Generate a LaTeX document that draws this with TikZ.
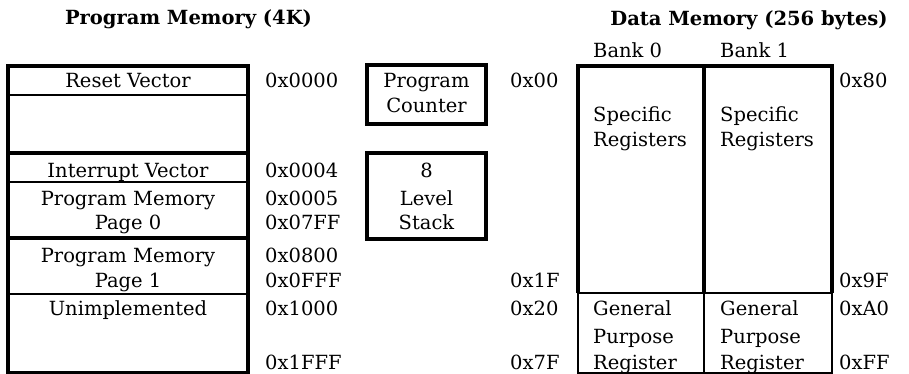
\documentclass[tikz,border=0pt]{standalone}
\usepackage{fontspec}
\setmainfont{DejaVu Serif}
\tikzset{
  txt/.style={inner sep=0pt, anchor=base, font=\fontsize{19.5}{24}\selectfont},
  txtl/.style={txt, anchor=base west},
  ttl/.style={inner sep=0pt, anchor=base, font=\fontsize{19.5}{24}\selectfont\bfseries},
  thickline/.style={line width=3.8pt},
  midline/.style={line width=2.8pt},
  thinline/.style={line width=1.8pt},
  boxnode/.style={draw, line width=3.8pt, inner sep=0pt},
}
\begin{document}
\begin{tikzpicture}[x=1pt,y=-1pt]
\useasboundingbox (0,0) rectangle (909,374);
% titles
\node[ttl] (t1) at (188.5,25) {Program Memory (4K)};
\node[ttl] (t2) at (749,26) {Data Memory (256 bytes)};
% program memory box
\node[boxnode, minimum width=240pt, minimum height=307pt] (pm) at (128,219.5) {};
\draw[midline] (pm.west |- 0,95) -- (pm.east |- 0,95);
\draw[thickline] (pm.west |- 0,153) -- (pm.east |- 0,153);
\draw[thinline] (pm.west |- 0,182) -- (pm.east |- 0,182);
\draw[thickline] (pm.west |- 0,238) -- (pm.east |- 0,238);
\draw[midline] (pm.west |- 0,294) -- (pm.east |- 0,294);
\node[txt] (rv) at (128,88) {Reset Vector};
\node[txt] (iv) at (128,178) {Interrupt Vector};
\node[txt] (pm0a) at (128,205) {Program Memory};
\node[txt] (pm0b) at (128,229) {Page 0};
\node[txt] (pm1a) at (128,262) {Program Memory};
\node[txt] (pm1b) at (128,287) {Page 1};
\node[txt] (un) at (128,315) {Unimplemented};
% program addresses
\node[txtl] (a1) at (265,88) {0x0000};
\node[txtl] (a2) at (265,178) {0x0004};
\node[txtl] (a3) at (265,205) {0x0005};
\node[txtl] (a4) at (265,229) {0x07FF};
\node[txtl] (a5) at (265,262) {0x0800};
\node[txtl] (a6) at (265,287) {0x0FFF};
\node[txtl] (a7) at (265,315) {0x1000};
\node[txtl] (a8) at (265,369) {0x1FFF};
% program counter and stack
\node[boxnode, minimum width=119pt, minimum height=59pt] (pc) at (426.5,94.5) {};
\node[txt] (pc1) at (426.5,88) {Program};
\node[txt] (pc2) at (426.5,113) {Counter};
\node[boxnode, minimum width=119pt, minimum height=86pt] (st) at (426.5,196) {};
\node[txt] (st1) at (426.5,178) {8};
\node[txt] (st2) at (426.5,205) {Level};
\node[txt] (st3) at (426.5,229) {Stack};
% data memory
\node[txtl] (b0) at (593,58) {Bank 0};
\node[txtl] (b1) at (720,58) {Bank 1};
\coordinate (dtl) at (578,66);
\coordinate (dtm) at (704,66);
\coordinate (dtr) at (832,66);
\coordinate (dml) at (578,293);
\coordinate (dmm) at (704,293);
\coordinate (dmr) at (832,293);
\coordinate (dbl) at (578,373);
\coordinate (dbm) at (704,373);
\coordinate (dbr) at (832,373);
\draw[thickline] (dml) -- (dtl) -- (dtr) -- (dmr);
\draw[thickline] (dtm) -- (dmm);
\draw[thinline] (dml) -- (dmr);
\draw[midline] (dml) -- (dbl) -- (dbr) -- (dmr);
\draw[midline] (dmm) -- (dbm);
\node[txtl] (s0a) at (593,122) {Specific};
\node[txtl] (s0b) at (593,147) {Registers};
\node[txtl] (s1a) at (720,122) {Specific};
\node[txtl] (s1b) at (720,147) {Registers};
\node[txtl] (g0a) at (593,315) {General};
\node[txtl] (g0b) at (593,343) {Purpose};
\node[txtl] (g0c) at (593,369) {Register};
\node[txtl] (g1a) at (720,315) {General};
\node[txtl] (g1b) at (720,343) {Purpose};
\node[txtl] (g1c) at (720,369) {Register};
% data addresses
\node[txtl] (d1) at (510,88) {0x00};
\node[txtl] (d2) at (510,287) {0x1F};
\node[txtl] (d3) at (510,315) {0x20};
\node[txtl] (d4) at (510,369) {0x7F};
\node[txtl] (e1) at (839,88) {0x80};
\node[txtl] (e2) at (839,287) {0x9F};
\node[txtl] (e3) at (839,315) {0xA0};
\node[txtl] (e4) at (839,369) {0xFF};
\end{tikzpicture}
\end{document}
